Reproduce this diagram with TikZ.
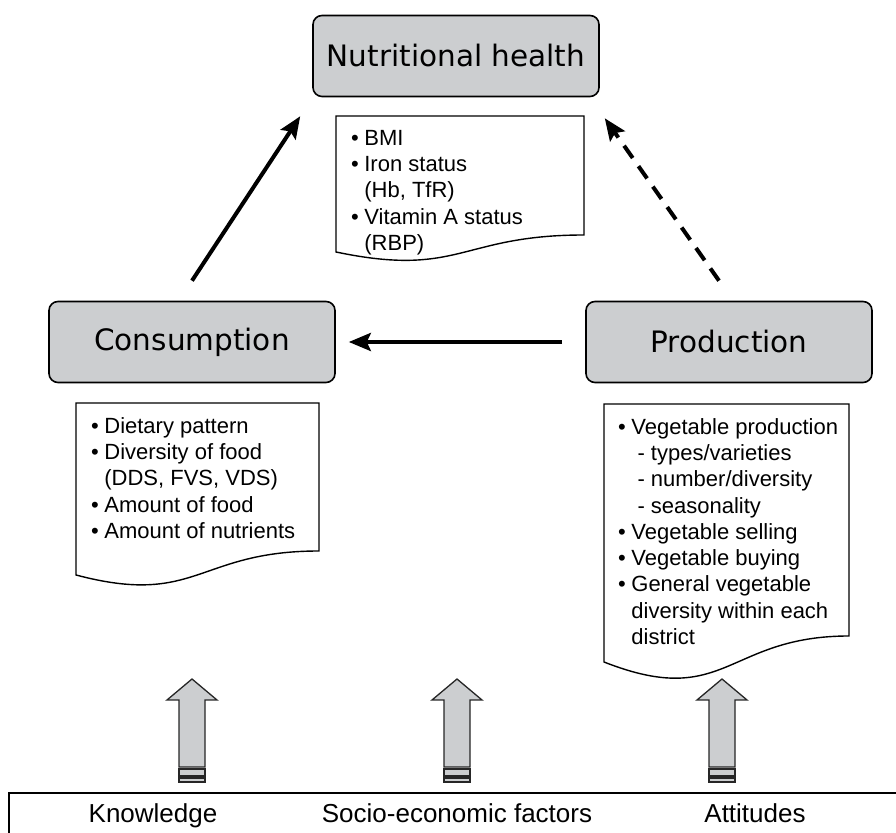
\documentclass[tikz,border=0pt]{standalone}
\usepackage{fontspec}
\setmainfont{Liberation Sans}
\newfontfamily\boxfont{DejaVu Sans}
\usetikzlibrary{arrows.meta}
\definecolor{boxgrey}{RGB}{204,206,208}
\newcommand{\itm}{\makebox[0.6em][l]{\textbullet}}
\newcommand{\cnt}{\hspace*{0.6em}}

\begin{document}
\begin{tikzpicture}[x=1pt,y=1pt,
	mainbox/.style={draw,line width=1.6pt,rectangle,rounded corners=9pt,fill=boxgrey,minimum width=286pt,minimum height=81pt,font=\boxfont\fontsize{29.5}{34}\selectfont},
	docbox/.style={draw,line width=1.4pt,fill=white},
	doctext/.style={anchor=north west,inner sep=0pt,align=left,font=\fontsize{22}{26.3}\selectfont},
	flow/.style={line width=4pt,-{Stealth[length=22pt,width=18pt,inset=4pt]}},
	blockarr/.style={draw=black!85,line width=1.3pt,fill=boxgrey},
	factor/.style={anchor=base,font=\fontsize{26}{30}\selectfont}]
			\useasboundingbox (0,0) rectangle (896,832);
			\node[mainbox] (health)at(456,776) {Nutritional health};
			\node[mainbox] (cons)at(192,490) {Consumption};
			\node[mainbox] (prod)at(729,490) {Production};
			% document shapes
			\draw[docbox] (336,716) -- (584,716) -- (584,597) .. controls (460,597) and (460,554) .. (336,580) -- cycle;
			\draw[docbox] (76,429) -- (319,429) -- (319,281) .. controls (197,281) and (197,225) .. (76,257) -- cycle;
			\draw[docbox] (604,428) -- (849,428) -- (849,196) .. controls (726,196) and (726,122) .. (604,170) -- cycle;
			\node[doctext] (healthtxt)at(351,702) {\itm BMI\\ \itm Iron status\\ \cnt(Hb, TfR)\\ \itm Vitamin A status\\ \cnt(RBP)};
			\node[doctext] (constxt)at(91,415) {\itm Dietary pattern\\ \itm Diversity of food\\ \cnt(DDS, FVS, VDS)\\ \itm Amount of food\\ \itm Amount of nutrients};
			\node[doctext] (prodtxt)at(618,414) {\itm Vegetable production\\ \cnt\ - types/varieties\\ \cnt\ - number/diversity\\ \cnt\ - seasonality\\ \itm Vegetable selling\\ \itm Vegetable buying\\ \itm General vegetable\\ \cnt diversity within each\\ \cnt district};
			% connectors
			\draw[flow] ([yshift=20pt]cons.north) -- ([xshift=-12pt,yshift=-19pt]health.south west);
			\draw[flow,dash pattern=on 15pt off 10pt] ([xshift=-10pt,yshift=20pt]prod.north) -- ([xshift=5pt,yshift=-21pt]health.south east);
			\draw[flow] ([xshift=-23pt]prod.west) -- ([xshift=13pt]cons.east);
			% factors
			\node[draw,line width=2pt,anchor=north west,minimum width=920pt,minimum height=70pt,inner sep=0pt] (factors)at(8,40) {};
			\node[factor] (know)at(153,10) {Knowledge};
			\node[factor] (socio)at(457,10) {Socio-economic factors};
			\node[factor] (att)at(755,10) {Attitudes};
			\foreach \x in {192,457,722} {
				\draw[blockarr] (\x-13,65) -- (\x-13,132) -- (\x-25,132) -- (\x,153) -- (\x+25,132) -- (\x+13,132) -- (\x+13,65) -- cycle;
				\draw[blockarr] (\x-13,56) rectangle (\x+13,63);
				\draw[blockarr] (\x-13,50) rectangle (\x+13,54);
			}
			\end{tikzpicture}
\end{document}
